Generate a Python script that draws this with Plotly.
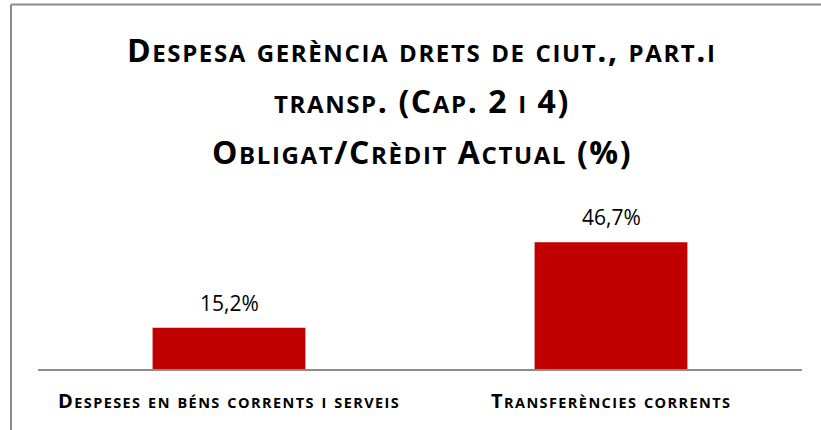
import plotly.graph_objects as go

# Data
categories = ["Despeses en béns corrents i serveis", "Transferències corrents"]
values = [15.2, 46.7]
title_lines = [
    "Despesa gerència drets de ciut., part.i",
    "transp. (Cap. 2 i 4)",
    "Obligat/Crèdit Actual (%)",
]

W, H = 821, 430
M_L, M_R, M_T, M_B = 38, 19, 206, 61
FONT = "Open Sans"
BAR_COLOR = "#C00000"
GRID_GRAY = "#8C8C8C"


def small_caps(text, small, spacing):
    """Render text in small capitals: lowercase letters become smaller capitals."""
    out = []
    for ch in text:
        if ch.isalpha() and ch.islower():
            out.append(f"<span style='font-size:{small}px'>{ch.upper()}</span>")
        else:
            out.append(ch)
    return f"<span style='letter-spacing:{spacing}px'><b>" + "".join(out) + "</b></span>"


def py_to_paper(py):
    """Convert a pixel row (from top of page) into paper y."""
    plot_h = H - M_T - M_B
    return (H - M_B - py) / plot_h


def px_to_paper(px):
    plot_w = W - M_L - M_R
    return (px - M_L) / plot_w


fig = go.Figure()
fig.add_trace(
    go.Bar(
        x=categories,
        y=values,
        marker=dict(color=BAR_COLOR, line=dict(width=0)),
        width=0.4,
        hoverinfo="skip",
    )
)

# value labels above the bars
for c, v in zip(categories, values):
    fig.add_annotation(
        x=c, y=v, xref="x", yref="y",
        text=f"<span style='letter-spacing:0.6px'>{v:.1f}%</span>".replace(".", ","),
        showarrow=False, yanchor="middle", yshift=25,
        font=dict(family=FONT, size=21, color="#000000"),
    )

# category labels below the axis
for c in categories:
    fig.add_annotation(
        x=c, y=py_to_paper(400), xref="x", yref="paper",
        text=small_caps(c, 14.5, 1.4),
        showarrow=False, yanchor="middle",
        font=dict(family=FONT, size=20, color="#000000"),
    )

# three-line title
title_centers = [49, 100, 151]
for line, yc in zip(title_lines, title_centers):
    fig.add_annotation(
        x=px_to_paper(422), y=py_to_paper(yc), xref="paper", yref="paper",
        text=small_caps(line, 24, 1.6),
        showarrow=False, yanchor="middle", xanchor="center",
        font=dict(family=FONT, size=32, color="#000000"),
    )

# chart frame (top and left edges visible)
fig.add_shape(type="line", xref="paper", yref="paper",
              x0=px_to_paper(11), x1=px_to_paper(W + 5),
              y0=py_to_paper(4.5), y1=py_to_paper(4.5),
              line=dict(color=GRID_GRAY, width=2))
fig.add_shape(type="line", xref="paper", yref="paper",
              x0=px_to_paper(11), x1=px_to_paper(11),
              y0=py_to_paper(4.5), y1=py_to_paper(H + 5),
              line=dict(color=GRID_GRAY, width=2))

fig.update_layout(
    width=W, height=H,
    margin=dict(l=M_L, r=M_R, t=M_T, b=M_B),
    paper_bgcolor="white", plot_bgcolor="white",
    showlegend=False,
    font=dict(family=FONT),
)
fig.update_xaxes(
    showticklabels=False, showgrid=False, zeroline=False,
    showline=True, linecolor=GRID_GRAY, linewidth=1.5, ticks="",
)
fig.update_yaxes(
    range=[0, 60], visible=False, showgrid=False, zeroline=False,
)

fig.write_html("out.html")
